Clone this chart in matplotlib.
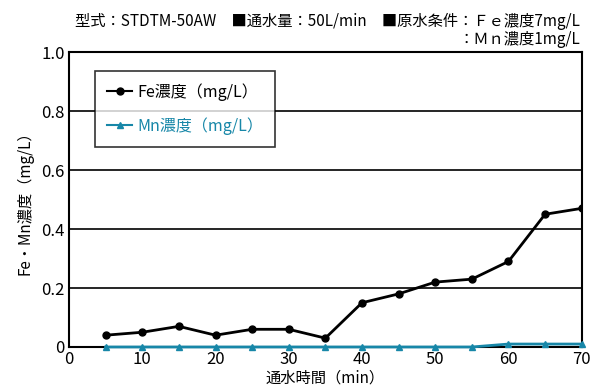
import matplotlib
matplotlib.use("Agg")
import matplotlib.pyplot as plt
import numpy as np

plt.rcParams['font.family'] = ['Noto Sans CJK JP', 'DejaVu Sans']

minutes = [5, 10, 15, 20, 25, 30, 35, 40, 45, 50, 55, 60, 65, 70]
fe = [0.04, 0.05, 0.07, 0.04, 0.06, 0.06, 0.03, 0.15, 0.18, 0.22, 0.23, 0.29, 0.45, 0.47]
mn = [0, 0, 0, 0, 0, 0, 0, 0, 0, 0, 0, 0.01, 0.01, 0.01]
yticks = [0, 0.2, 0.4, 0.6, 0.8, 1.0]
ytick_labels = ['0', '0.2', '0.4', '0.6', '0.8', '1.0']
xticks = [0, 10, 20, 30, 40, 50, 60, 70]

teal = '#1787a8'

fig = plt.figure(figsize=(5.92, 3.92), dpi=100)
ax = fig.add_axes([0.1166, 0.1148, 0.866, 0.7525])

for y in yticks[1:-1]:
    ax.axhline(y, color='black', lw=1.2, zorder=1)

ax.plot(minutes, fe, color='black', lw=2, marker='o', ms=5, label='Fe濃度（mg/L）', zorder=3)
ax.plot(minutes, mn, color=teal, lw=2, marker='^', ms=5, label='Mn濃度（mg/L）', zorder=4, clip_on=False)

ax.set_xlim(0, 70)
ax.set_ylim(0, 1.0)
ax.set_xticks(xticks)
ax.set_yticks(yticks)
ax.set_yticklabels(ytick_labels)
ax.tick_params(length=0, labelsize=12, pad=3)
for s in ax.spines.values():
    s.set_color('black')
    s.set_linewidth(1.5)

ax.set_xlabel('通水時間（min）', fontsize=11, labelpad=1)
ax.set_ylabel('Fe・Mn濃度（mg/L）', fontsize=11, labelpad=6)

leg = ax.legend(loc='upper left', bbox_to_anchor=(0.035, 0.963), fontsize=11.5, frameon=True,
                fancybox=False, edgecolor='black', handlelength=1.6, labelspacing=1.05,
                borderpad=0.75, handletextpad=0.3)
leg.get_frame().set_linewidth(1.2)
for h in leg.legend_handles:
    h.set_linewidth(1.5)
leg.get_texts()[1].set_color(teal)

fig.text(0.98, 0.945, '型式：STDTM-50AW　■通水量：50L/min　■原水条件：Ｆｅ濃度7mg/L',
         ha='right', va='center', fontsize=11)
fig.text(0.98, 0.9, '：Ｍｎ濃度1mg/L', ha='right', va='center', fontsize=11)

fig.savefig('out.png', dpi=100)
